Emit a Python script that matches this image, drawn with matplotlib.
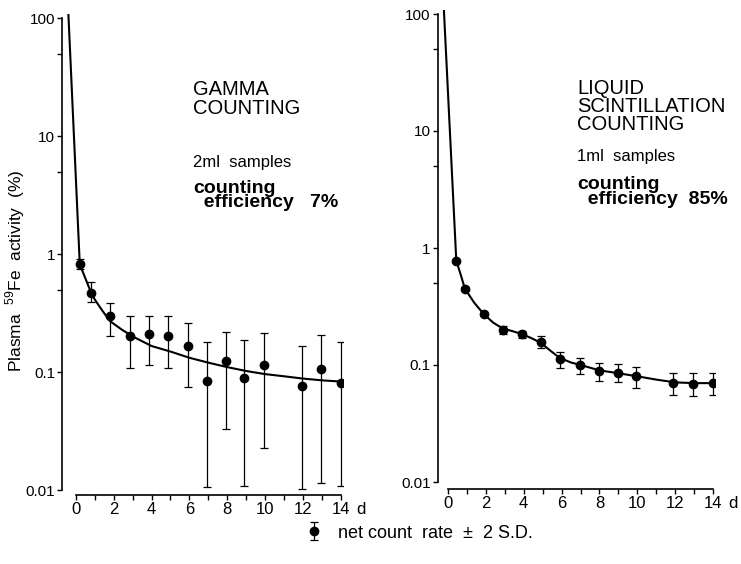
import matplotlib
matplotlib.use("Agg")
import matplotlib.pyplot as plt

plt.rcParams["font.family"] = ["Liberation Sans", "DejaVu Sans"]
plt.rcParams["mathtext.fontset"] = "custom"
plt.rcParams["mathtext.rm"] = "Liberation Sans"

# gamma counting, 2 ml samples
GAMMA_DAY = [0.2, 0.8, 1.8, 2.85, 3.85, 4.85, 5.9, 6.95, 7.95, 8.9, 9.95, 11.95, 12.95, 14.0]
GAMMA_VAL = [0.82, 0.47, 0.30, 0.20, 0.21, 0.20, 0.166, 0.084, 0.124, 0.089, 0.115, 0.076, 0.107, 0.081]
GAMMA_LO = [0.75, 0.39, 0.20, 0.109, 0.115, 0.109, 0.075, 0.0105, 0.033, 0.0108, 0.0225, 0.0102, 0.0115, 0.0108]
GAMMA_HI = [0.90, 0.58, 0.386, 0.298, 0.30, 0.297, 0.262, 0.18, 0.22, 0.187, 0.215, 0.166, 0.206, 0.18]

GAMMA_CURVE_DAY = [-0.4, 0.2, 0.5, 0.8, 1.0, 1.4, 1.8, 2.4, 3.0, 4.0, 5.0, 6.0, 7.0,
                   8.0, 9.0, 10.0, 11.0, 12.0, 13.0, 14.0]
GAMMA_CURVE_VAL = [106, 0.82, 0.62, 0.47, 0.41, 0.33, 0.27, 0.23, 0.20, 0.166, 0.149, 0.132,
                   0.12, 0.11, 0.102, 0.096, 0.092, 0.088, 0.085, 0.083]

# liquid scintillation counting, 1 ml samples
LSC_DAY = [0.45, 0.9, 1.9, 2.9, 3.9, 4.9, 5.9, 6.95, 7.95, 8.95, 9.95, 11.9, 12.95, 14.0]
LSC_VAL = [0.78, 0.45, 0.272, 0.20, 0.184, 0.156, 0.113, 0.100, 0.088, 0.085, 0.081, 0.070, 0.069, 0.070]
LSC_LO = [0.77, 0.44, 0.265, 0.184, 0.170, 0.139, 0.094, 0.084, 0.073, 0.071, 0.064, 0.055, 0.054, 0.055]
LSC_HI = [0.79, 0.46, 0.279, 0.217, 0.197, 0.176, 0.130, 0.114, 0.104, 0.102, 0.097, 0.085, 0.085, 0.086]

LSC_CURVE_DAY = [-0.2, 0.45, 0.7, 0.9, 1.4, 1.9, 2.4, 2.9, 3.4, 3.9, 4.4, 4.9, 5.4, 5.9,
                 6.5, 7.0, 8.0, 9.0, 10.0, 11.0, 12.0, 13.0, 14.0]
LSC_CURVE_VAL = [106, 0.78, 0.58, 0.45, 0.34, 0.272, 0.23, 0.205, 0.195, 0.184, 0.17, 0.155,
                 0.133, 0.115, 0.105, 0.100, 0.090, 0.085, 0.080, 0.075, 0.071, 0.070, 0.070]

Y_TICKS = [0.01, 0.1, 1, 10, 100]
Y_LABELS = ["0.01", "0.1", "1", "10", "100"]
Y_MINOR = [0.5, 5, 50]
X_TICKS = [0, 2, 4, 6, 8, 10, 12, 14]
X_MINOR = [1, 3, 5, 7, 9, 11, 13]


def style_axis(ax, xlim, offset):
    ax.set_yscale("log")
    ax.set_ylim(0.01, 100)
    ax.set_xlim(*xlim)
    ax.set_yticks(Y_TICKS)
    ax.set_yticklabels(Y_LABELS)
    ax.set_yticks(Y_MINOR, minor=True)
    ax.set_yticklabels([], minor=True)
    ax.set_xticks(X_TICKS)
    ax.set_xticklabels([str(t) for t in X_TICKS])
    ax.set_xticks(X_MINOR, minor=True)

    ax.spines["top"].set_visible(False)
    ax.spines["right"].set_visible(False)
    ax.spines["bottom"].set_position(("outward", offset))
    ax.spines["bottom"].set_bounds(0, 14)
    for s in ("left", "bottom"):
        ax.spines[s].set_linewidth(1.2)

    ax.tick_params(axis="y", which="both", direction="out", length=3.5, width=1.0,
                   pad=1.5, labelsize=11)
    ax.tick_params(axis="x", which="both", direction="out", length=3.5, width=1.0,
                   pad=1.5, labelsize=12)
    ax.annotate("d", xy=(14, 0), xycoords=("data", "axes fraction"),
                xytext=(11, -offset - 5), textcoords="offset points",
                ha="left", va="top", fontsize=12)


def draw(ax, day, val, lo, hi, cday, cval):
    ax.plot(cday, cval, color="black", lw=1.5, clip_on=False, zorder=3)
    yerr = [[v - l for v, l in zip(val, lo)], [h - v for v, h in zip(val, hi)]]
    eb = ax.errorbar(day, val, yerr=yerr, fmt="o", color="black", ms=6,
                     elinewidth=0.9, capsize=3, capthick=0.9, zorder=4)
    return eb


def caption(ax, x, y, lines, fontsize, **kw):
    ax.text(x, y, "\n".join(lines), transform=ax.transAxes, fontsize=fontsize,
            va="top", ha="left", **kw)


fig = plt.figure(figsize=(7.41, 5.64), dpi=100)

ax1 = fig.add_axes([62 / 741, 1 - 490 / 564, 280.5 / 741, 472 / 564])
eb = draw(ax1, GAMMA_DAY, GAMMA_VAL, GAMMA_LO, GAMMA_HI, GAMMA_CURVE_DAY, GAMMA_CURVE_VAL)
style_axis(ax1, (-0.74, 14.1), 3.6)

ax2 = fig.add_axes([437.5 / 741, 1 - 482 / 564, 277.7 / 741, 468 / 564])
draw(ax2, LSC_DAY, LSC_VAL, LSC_LO, LSC_HI, LSC_CURVE_DAY, LSC_CURVE_VAL)
style_axis(ax2, (-0.54, 14.1), 5)

# panel captions
caption(ax1, 0.467, 0.868, ["GAMMA", "COUNTING"], 14.5, linespacing=0.95)
caption(ax1, 0.467, 0.710, ["2ml  samples"], 12)
caption(ax1, 0.467, 0.657, ["counting", "  efficiency   7%"], 14, fontweight="bold",
        linespacing=0.8)

caption(ax2, 0.502, 0.862, ["LIQUID", "SCINTILLATION", "COUNTING"], 14.5, linespacing=0.95)
caption(ax2, 0.502, 0.711, ["1ml  samples"], 12)
caption(ax2, 0.502, 0.654, ["counting", "  efficiency  85%"], 14, fontweight="bold",
        linespacing=0.85)

fig.text(15 / 741, 1 - 271 / 564, r"Plasma  $^{\mathregular{59}}$Fe  activity  (%)",
         rotation=90, ha="center", va="center", fontsize=12.5)

fig.legend(handles=[eb], labels=["net count  rate  \u00b1  2 S.D."],
           loc="center left", bbox_to_anchor=(289 / 741, 1 - 533 / 564),
           frameon=False, fontsize=13, handlelength=1.0, handletextpad=0.8)

fig.savefig("out.png", dpi=100)
